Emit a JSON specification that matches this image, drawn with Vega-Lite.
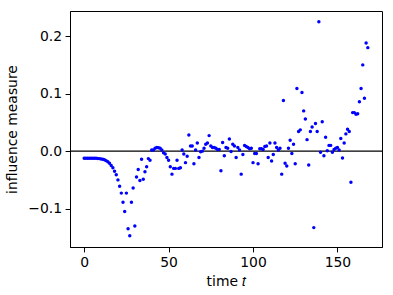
{
  "$schema": "https://vega.github.io/schema/vega-lite/v6.json",
  "autosize": {"type": "fit", "contains": "padding"},
  "padding": {"left": 5, "top": 11, "right": 10, "bottom": 6},
  "width": 393,
  "height": 295,
  "background": "white",
  "config": {
    "font": "DejaVu Sans",
    "view": {"stroke": "black", "strokeWidth": 1},
    "axis": {
      "grid": false,
      "domainColor": "black",
      "tickColor": "black",
      "tickSize": 4.9,
      "tickWidth": 1,
      "labelFont": "DejaVu Sans",
      "labelFontSize": 13.9,
      "labelColor": "black",
      "titleFont": "DejaVu Sans",
      "titleFontSize": 13.9,
      "titleFontWeight": "normal",
      "titleColor": "black"
    }
  },
  "data": {
    "values": [
      {"t":0,"v":-0.0124},{"t":1,"v":-0.0124},{"t":2,"v":-0.0124},{"t":3,"v":-0.0124},{"t":4,"v":-0.0124},{"t":5,"v":-0.0124},{"t":6,"v":-0.0124},{"t":7,"v":-0.0125},{"t":8,"v":-0.0127},{"t":9,"v":-0.013},
      {"t":10,"v":-0.0135},{"t":11,"v":-0.0142},{"t":12,"v":-0.015},{"t":13,"v":-0.0165},{"t":14,"v":-0.0185},{"t":15,"v":-0.021},{"t":16,"v":-0.025},{"t":17,"v":-0.029},{"t":18,"v":-0.035},{"t":19,"v":-0.041},
      {"t":20,"v":-0.05},{"t":21,"v":-0.061},{"t":22,"v":-0.073},{"t":23,"v":-0.089},{"t":24,"v":-0.105},{"t":25,"v":-0.073},{"t":26,"v":-0.135},{"t":27,"v":-0.147},{"t":28,"v":-0.089},{"t":29,"v":-0.064},
      {"t":30,"v":-0.13},{"t":31,"v":-0.045},{"t":32,"v":-0.032},{"t":33,"v":-0.051},{"t":34,"v":-0.014},{"t":35,"v":-0.049},{"t":36,"v":-0.036},{"t":37,"v":-0.027},{"t":38,"v":-0.013},{"t":39,"v":-0.016},
      {"t":40,"v":0.002},{"t":41,"v":0.002},{"t":42,"v":0.005},{"t":43,"v":0.0065},{"t":44,"v":0.006},{"t":45,"v":0.005},{"t":46,"v":0.002},{"t":47,"v":-0.003},{"t":48,"v":-0.005},{"t":49,"v":-0.011},
      {"t":50,"v":-0.016},{"t":51,"v":-0.027},{"t":52,"v":-0.04},{"t":53,"v":-0.03},{"t":54,"v":-0.03},{"t":55,"v":-0.016},{"t":56,"v":-0.03},{"t":57,"v":-0.029},{"t":58,"v":0.002},{"t":59,"v":-0.005},
      {"t":60,"v":-0.02},{"t":61,"v":-0.009},{"t":62,"v":0.028},{"t":63,"v":0.009},{"t":64,"v":0.009},{"t":65,"v":-0.022},{"t":66,"v":0.002},{"t":67,"v":0.014},{"t":68,"v":-0.011},{"t":69,"v":-0.001},
      {"t":70,"v":0.0},{"t":71,"v":0.005},{"t":72,"v":0.012},{"t":73,"v":0.014},{"t":74,"v":0.027},{"t":75,"v":0.009},{"t":76,"v":0.0065},{"t":77,"v":0.0065},{"t":78,"v":0.005},{"t":79,"v":0.003},
      {"t":80,"v":0.003},{"t":81,"v":-0.034},{"t":82,"v":0.015},{"t":83,"v":-0.008},{"t":84,"v":0.0065},{"t":85,"v":0.005},{"t":86,"v":0.021},{"t":87,"v":-0.0006},{"t":88,"v":0.012},{"t":89,"v":0.009},
      {"t":90,"v":-0.011},{"t":91,"v":0.0065},{"t":92,"v":0.002},{"t":93,"v":-0.04},{"t":94,"v":-0.006},{"t":95,"v":0.01},{"t":96,"v":0.008},{"t":97,"v":0.0065},{"t":98,"v":0.004},{"t":99,"v":0.005},
      {"t":100,"v":-0.02},{"t":101,"v":-0.004},{"t":102,"v":-0.004},{"t":103,"v":-0.022},{"t":104,"v":0.004},{"t":105,"v":0.004},{"t":106,"v":0.003},{"t":107,"v":0.008},{"t":108,"v":0.009},{"t":109,"v":-0.011},
      {"t":110,"v":0.014},{"t":111,"v":-0.017},{"t":112,"v":-0.006},{"t":113,"v":0.014},{"t":114,"v":0.0065},{"t":115,"v":0.002},{"t":116,"v":0.005},{"t":117,"v":-0.04},{"t":118,"v":0.088},{"t":119,"v":-0.021},
      {"t":120,"v":-0.026},{"t":121,"v":0.005},{"t":122,"v":0.019},{"t":123,"v":-0.004},{"t":124,"v":0.012},{"t":125,"v":-0.022},{"t":126,"v":0.109},{"t":127,"v":0.034},{"t":128,"v":0.037},{"t":129,"v":0.102},
      {"t":130,"v":0.07},{"t":131,"v":0.056},{"t":132,"v":0.02},{"t":133,"v":-0.024},{"t":134,"v":0.034},{"t":135,"v":0.042},{"t":136,"v":-0.133},{"t":137,"v":0.048},{"t":138,"v":0.034},{"t":139,"v":0.225},
      {"t":140,"v":-0.002},{"t":141,"v":0.051},{"t":142,"v":-0.008},{"t":143,"v":0.024},{"t":144,"v":0.0006},{"t":145,"v":0.01},{"t":146,"v":0.01},{"t":147,"v":-0.002},{"t":148,"v":0.003},{"t":149,"v":0.005},
      {"t":150,"v":0.0065},{"t":151,"v":0.002},{"t":152,"v":0.022},{"t":153,"v":-0.012},{"t":154,"v":0.014},{"t":155,"v":0.03},{"t":156,"v":0.038},{"t":157,"v":0.034},{"t":158,"v":-0.054},{"t":159,"v":0.067},
      {"t":160,"v":0.067},{"t":161,"v":0.064},{"t":162,"v":0.065},{"t":163,"v":0.086},{"t":164,"v":0.109},{"t":165,"v":0.15},{"t":166,"v":0.092},{"t":167,"v":0.188},{"t":168,"v":0.18}
    ]
  },
  "layer": [
    {
      "data": {"values": [{"y": 0}]},
      "mark": {"type": "rule", "color": "black", "strokeWidth": 1.2},
      "encoding": {
        "y": {"field": "y", "type": "quantitative", "scale": {"domain": [-0.1667, 0.2437], "nice": false, "zero": false}}
      }
    },
    {
      "mark": {"type": "point", "filled": true, "color": "#0000ff", "opacity": 1, "size": 12},
      "encoding": {
        "x": {
          "field": "t", "type": "quantitative",
          "scale": {"domain": [-8.4, 176.4], "nice": false, "zero": false},
          "axis": {"values": [0, 50, 100, 150], "title": "time 𝑡", "labelPadding": 3.5, "titlePadding": 5, "labelFlush": false}
        },
        "y": {
          "field": "v", "type": "quantitative",
          "scale": {"domain": [-0.1667, 0.2437], "nice": false, "zero": false},
          "axis": {"values": [-0.1, 0, 0.1, 0.2], "format": ".1f", "title": "influence measure", "labelPadding": 3.5, "titlePadding": 8, "labelFlush": false}
        }
      }
    }
  ]
}
